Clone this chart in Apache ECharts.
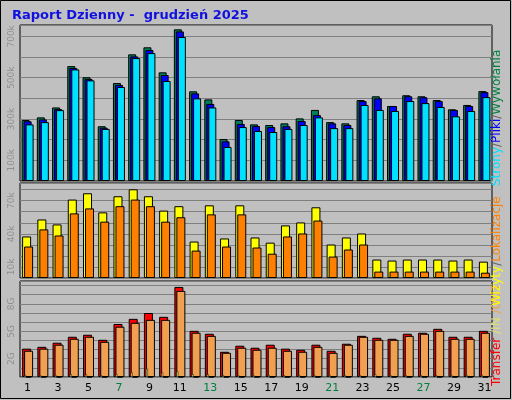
<!DOCTYPE html>
<html><head><meta charset="utf-8">
<script src="https://cdn.jsdelivr.net/npm/echarts@6/dist/echarts.min.js"></script>
<style>html,body{margin:0;padding:0;background:#c0c0c0}#c{width:512px;height:400px}</style>
</head><body><div id="c"></div>
<script>
const days = Array.from({length:31},(_,i)=>String(i+1));
const weekend = ['6','7','13','14','20','21','27','28'];
// thousands
const hits  = [295,308,356,556,502,265,474,613,647,526,734,434,395,203,295,274,271,279,303,344,285,279,392,410,363,415,410,392,347,368,435];
const files = [289,298,348,547,494,258,465,603,634,513,724,424,373,192,276,266,261,265,290,319,279,271,387,400,363,410,405,387,344,363,430];
const pages = [274,285,343,540,487,252,455,595,619,484,697,400,356,165,261,242,237,252,271,308,256,256,368,344,339,387,377,358,313,339,406];
const visits= [37.6,53,48.5,71,76.7,59.4,74,80.3,74,61,65,33,65.8,35.8,65.8,36.7,32,47.6,50.3,64,30.3,36.7,40.3,16.7,15.8,16.7,16.7,16.7,15.8,16.7,14.8];
const sites = [28.5,44,38.5,58.5,63,51,65,71,65,51,55,24.8,57.6,28.5,57.6,27.6,22,37.6,40.3,52,19.4,25.8,30.3,5.8,5.8,5.8,5.8,5.8,5.8,5.8,4.8];
// GB
const transfer=[3.1,3.3,3.75,4.4,4.62,4.07,5.8,6.36,7.0,6.58,9.85,5.05,4.73,2.76,3.42,3.2,3.53,3.1,2.98,3.53,2.87,3.64,4.5,4.29,4.18,4.73,4.84,5.27,4.4,4.4,5.05];
const outT   = [2.87,3.1,3.53,4.18,4.4,3.85,5.5,5.93,6.25,6.25,9.42,4.84,4.5,2.65,3.2,2.98,3.2,2.87,2.76,3.3,2.65,3.53,4.4,4.07,4.07,4.5,4.73,5.05,4.18,4.18,4.84];
const inT    = [0.2,0.2,0.2,0.3,0.3,0.2,0.3,0.5,0.9,0.5,0.6,0.3,0.3,0.2,0.2,0.2,0.2,0.2,0.2,0.2,0.2,0.2,0.2,0.3,0.2,0.2,0.2,0.2,0.2,0.2,0.2];

const grids=[{left:20,top:25,width:472,height:156},{left:20,top:183,width:472,height:95},{left:20,top:281,width:472,height:96}];
const chart=echarts.init(document.getElementById('c'));
const xa=(g,show,hidden)=>({type:'category',gridIndex:g,data:days,show:!hidden,axisLine:{show:false},axisTick:{show:false},
  axisLabel:{show:show,margin:6,fontSize:11,fontFamily:'DejaVu Sans',color:v=>weekend.includes(v)?'#008040':'#000'}});
const ya=(g,max,intv,labs)=>({type:'value',gridIndex:g,min:0,max:max,interval:intv,axisLine:{show:false},axisTick:{show:false},
  splitLine:{lineStyle:{color:'#808080',width:1}},
  axisLabel:{rotate:90,fontSize:9,fontFamily:'DejaVu Sans',color:'#909090',margin:4,formatter:v=>labs[v]||''}});
const bar=(x,y,data,color,w,gap)=>({type:'bar',xAxisIndex:x,yAxisIndex:y,data:data,barWidth:w,barGap:gap,silent:true,
  itemStyle:{color:color,borderColor:'#000',borderWidth:1}});
chart.setOption({
  animation:false,
  title:{text:'Raport Dzienny -  grudzień 2025',left:7,top:4,textStyle:{color:'#1010e0',fontSize:13,fontWeight:'bold',fontFamily:'DejaVu Sans'}},
  grid:grids.map(g=>Object.assign({show:true,backgroundColor:'#c0c0c0',borderColor:'#000',borderWidth:1},g)),
  xAxis:[xa(0,false),xa(1,false),xa(2,true),xa(2,false,true)],
  yAxis:[ya(0,755,100,{100:'100k',300:'300k',500:'500k',700:'700k'}),
         ya(1,86,10,{10:'10k',40:'40k',70:'70k'}),
         ya(2,10.5,1,{2:'2G',5:'5G',8:'8G'}),
         Object.assign(ya(2,10.5,1,{}),{show:false})],
  series:[
    bar(0,0,hits,'#00805a',8,'-75%'),bar(0,0,files,'#0000ff',8,'-75%'),bar(0,0,pages,'#00e0ff',8,'-75%'),
    bar(1,1,visits,'#ffff00',9,'-78%'),bar(1,1,sites,'#ff8000',9,'-78%'),
    bar(2,2,transfer,'#ff0000',9,'-78%'),bar(2,2,outT,'#f0a050',9,'-78%'),
    Object.assign(bar(3,3,inT,'#d0f080',2,'0%'),{z:3,itemStyle:{color:'#d0f080',borderColor:'#000',borderWidth:0.5}}),
    bar(3,3,inT.map(()=>0),'transparent',5,'0%')
  ],
  graphic:[
    {type:'rect',shape:{x:0.5,y:0.5,width:510,height:398},style:{fill:'none',stroke:'#000',lineWidth:1}},
    {type:'text',x:497,y:386,rotation:Math.PI/2,style:{text:'{r|Transfer} {y|/IN} {o|/OUT}',align:'left',verticalAlign:'middle',
      font:'12px DejaVu Sans',rich:{r:{fill:'#ff0000',font:'12px DejaVu Sans'},y:{fill:'#e0e070',font:'12px DejaVu Sans'},o:{fill:'#f0a050',font:'12px DejaVu Sans'}}}},
    {type:'text',x:497,y:306,rotation:Math.PI/2,style:{text:'{y|Wizyty}{g|/}{o|Lokalizacje}',align:'left',verticalAlign:'middle',
      rich:{y:{fill:'#ffff00',font:'12px DejaVu Sans'},g:{fill:'#606060',font:'12px DejaVu Sans'},o:{fill:'#ff8000',font:'12px DejaVu Sans'}}}},
    {type:'text',x:497,y:186,rotation:Math.PI/2,style:{text:'{c|Strony}{g|/}{b|Pliki}{g|/}{w|Wywołania}',align:'left',verticalAlign:'middle',
      rich:{c:{fill:'#00e0ff',font:'12px DejaVu Sans'},g:{fill:'#606060',font:'12px DejaVu Sans'},b:{fill:'#0000ff',font:'12px DejaVu Sans'},w:{fill:'#008040',font:'12px DejaVu Sans'}}}}
  ]
});
</script></body></html>
